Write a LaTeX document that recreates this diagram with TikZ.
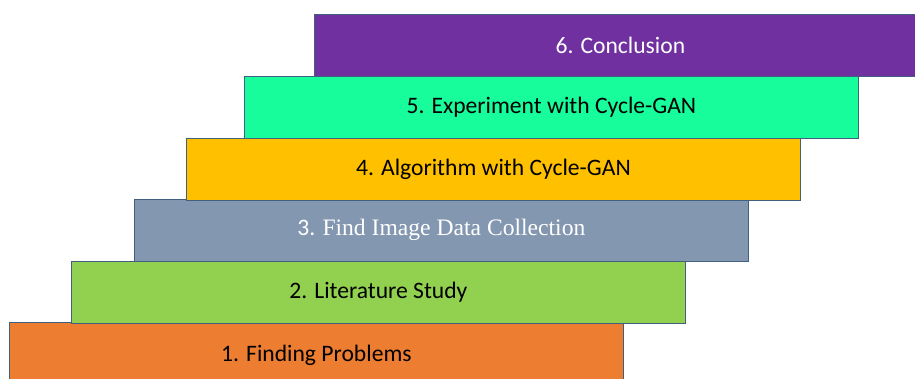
\documentclass[tikz,border=0pt]{standalone}
\usepackage{fontspec}
\setmainfont{Carlito}
\newfontfamily\timesfont{Liberation Serif}
\definecolor{stepedge}{HTML}{41607F}
\definecolor{orangestep}{HTML}{ED7D31}
\definecolor{greenstep}{HTML}{92D050}
\definecolor{greystep}{HTML}{8497B0}
\definecolor{yellowstep}{HTML}{FFC000}
\definecolor{aquastep}{HTML}{17FD9B}
\definecolor{purplestep}{HTML}{7030A0}
\tikzset{
	stepbox/.style = {draw = stepedge,
					  line width = 0.8pt,
					  anchor = north west,
					  minimum width = 614pt,
					  minimum height = 61.5pt,
					  inner sep = 0pt,
					  font = \fontsize{23.6}{28}\selectfont}
}
\begin{document}
\begin{tikzpicture}[x = 1pt, y = -1pt]
	\useasboundingbox (0, 0) rectangle (915, 378);
	\begin{scope}
	\clip (0, 0) rectangle (915, 378);
	\draw (9, 322) node[stepbox,
					  fill = orangestep,
					  minimum height = 66pt
			   ](S1){1. Finding Problems};
	\draw (71, 261) node[stepbox,
					  fill = greenstep
			   ](S2){2. Literature Study};
	\draw (134, 199) node[stepbox,
					  fill = greystep,
					  text = white
			   ](S3){3. {\timesfont Find Image Data Collection}};
	\draw (186, 138) node[stepbox,
					  fill = yellowstep
			   ](S4){4. Algorithm with Cycle-GAN};
	\draw (244, 76) node[stepbox,
					  fill = aquastep
			   ](S5){5. Experiment with Cycle-GAN};
	\draw (314, 14) node[stepbox,
					  fill = purplestep,
					  text = white,
					  minimum width = 612pt
			   ](S6){6. Conclusion};
	\end{scope}
\end{tikzpicture}
\end{document}
